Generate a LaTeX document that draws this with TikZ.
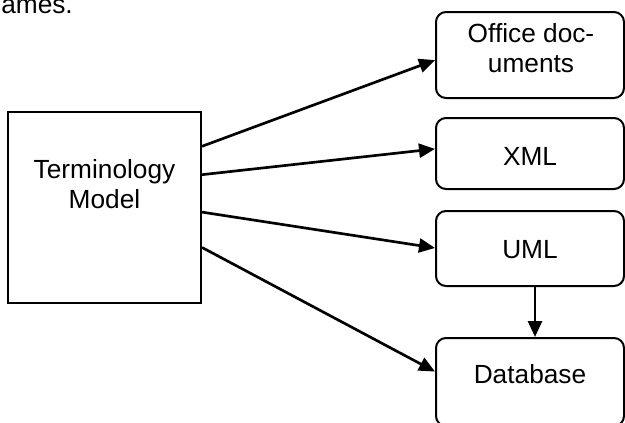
\documentclass[tikz,border=0pt]{standalone}
\usepackage{fontspec}
\setmainfont{Liberation Sans}
\usetikzlibrary{calc,arrows.meta}
\begin{document}
\begin{tikzpicture}[x=0.75pt,y=-0.75pt,
  txt/.style={inner sep=0pt,font=\fontsize{19.7pt}{22.5pt}\selectfont,align=center},
  sqbox/.style={draw,line width=1.6pt,inner sep=0pt},
  rbox/.style={draw,line width=1.5pt,rounded corners=7.5pt,inner sep=0pt,minimum width=141pt},
  arr/.style={line width=2pt,-{Triangle[length=12pt,width=10.5pt]}}]
\useasboundingbox (0,0) rectangle (625,422);
% boxes
\node[sqbox,minimum width=144.75pt,minimum height=143.25pt] (tm) at (104.5,207.5) {};
\node[rbox,minimum height=64.5pt] (od) at (530,55) {};
\node[rbox,minimum height=53.25pt] (xml) at (530,153.5) {};
\node[rbox,minimum height=56.25pt] (uml) at (530,248.5) {};
\node[rbox,minimum height=66pt] (db) at (530,382) {};
% texts
\node[txt,anchor=base west] (cut) at (1,13) {ames.};
\node[txt,anchor=base] (tmL) at (104.5,208) {Terminology\\Model};
\node[txt,anchor=base] (odL) at (531,72) {Office doc-\\uments};
\node[txt,anchor=base] (xmlL) at (530,165) {XML};
\node[txt,anchor=base] (umlL) at (530,258) {UML};
\node[txt,anchor=base] (dbL) at (530,383) {Database};
% connectors
\draw[arr] ($(tm.north east)!0.183!(tm.south east)$) -- ($(od.north west)!0.558!(od.south west)$);
\draw[arr] ($(tm.north east)!0.330!(tm.south east)$) -- ($(xml.north west)!0.437!(xml.south west)$);
\draw[arr] ($(tm.north east)!0.524!(tm.south east)$) -- ($(uml.north west)!0.493!(uml.south west)$);
\draw[arr] ($(tm.north east)!0.707!(tm.south east)$) -- ($(db.north west)!0.384!(db.south west)$);
\draw[arr] ($(uml.south)+(5,0)$) -- ($(db.north)+(5,0)$);
\end{tikzpicture}
\end{document}
